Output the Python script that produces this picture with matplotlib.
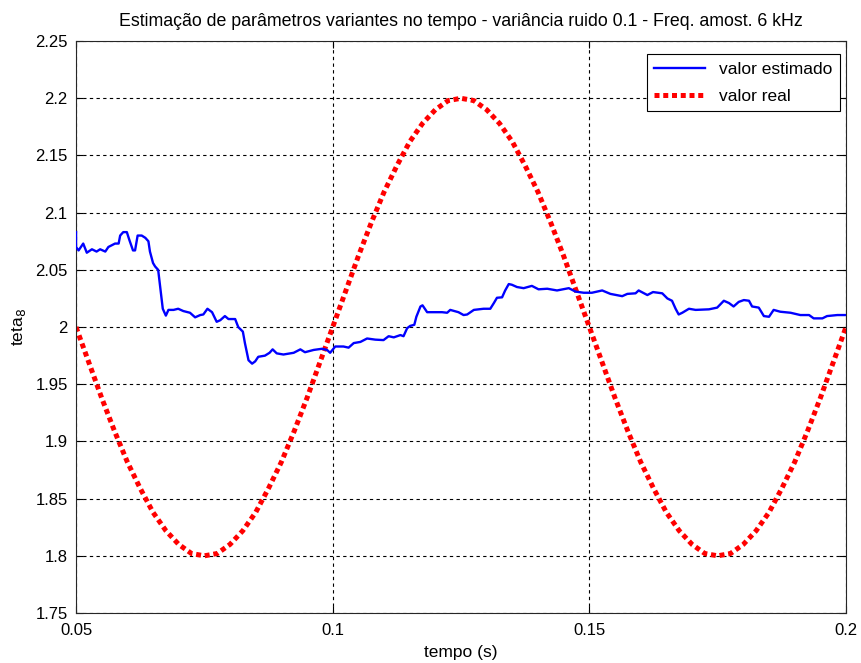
import matplotlib
matplotlib.use("Agg")
import matplotlib.pyplot as plt

plt.rcParams["font.family"] = ["Liberation Sans", "DejaVu Sans"]

# valor estimado
t_est = [0.0500, 0.0500, 0.0505, 0.0514, 0.0521, 0.0531, 0.0540, 0.0547, 0.0557,
         0.0563, 0.0576, 0.0583, 0.0586, 0.0592, 0.0599, 0.0604, 0.0611, 0.0615,
         0.0620, 0.0628, 0.0635, 0.0641, 0.0644, 0.0650, 0.0654, 0.0660, 0.0664,
         0.0669, 0.0675, 0.0680, 0.0690, 0.0699, 0.0709, 0.0722, 0.0732, 0.0742,
         0.0748, 0.0756, 0.0765, 0.0774, 0.0781, 0.0790, 0.0797, 0.0810, 0.0816,
         0.0825, 0.0829, 0.0836, 0.0843, 0.0849, 0.0855, 0.0868, 0.0877, 0.0883,
         0.0891, 0.0904, 0.0924, 0.0937, 0.0946, 0.0963, 0.0979, 0.0989, 0.0995,
         0.1005, 0.1021, 0.1031, 0.1041, 0.1054, 0.1067, 0.1083, 0.1099, 0.1109,
         0.1119, 0.1132, 0.1138, 0.1145, 0.1151, 0.1159, 0.1163, 0.1171, 0.1175,
         0.1184, 0.1197, 0.1213, 0.1223, 0.1229, 0.1245, 0.1255, 0.1262, 0.1275,
         0.1294, 0.1307, 0.1314, 0.1320, 0.1330, 0.1336, 0.1343, 0.1349, 0.1359,
         0.1372, 0.1388, 0.1401, 0.1418, 0.1437, 0.1460, 0.1473, 0.1489, 0.1505,
         0.1525, 0.1541, 0.1564, 0.1574, 0.1590, 0.1596, 0.1613, 0.1624, 0.1642,
         0.1652, 0.1661, 0.1668, 0.1674, 0.1681, 0.1694, 0.1707, 0.1733, 0.1749,
         0.1762, 0.1772, 0.1781, 0.1791, 0.1801, 0.1811, 0.1817, 0.1830, 0.1840,
         0.1850, 0.1859, 0.1872, 0.1892, 0.1911, 0.1928, 0.1937, 0.1954, 0.1963,
         0.1983, 0.2000]
v_est = [2.083, 2.070, 2.067, 2.073, 2.065, 2.068, 2.066, 2.068, 2.066,
         2.070, 2.073, 2.073, 2.080, 2.083, 2.083, 2.076, 2.067, 2.067,
         2.080, 2.080, 2.078, 2.075, 2.066, 2.056, 2.053, 2.050, 2.035,
         2.016, 2.010, 2.015, 2.015, 2.016, 2.014, 2.0125, 2.0085, 2.0105,
         2.011, 2.016, 2.013, 2.0046, 2.006, 2.0096, 2.007, 2.007, 2.000,
         1.996, 1.986, 1.971, 1.968, 1.970, 1.974, 1.975, 1.9775, 1.9805,
         1.977, 1.976, 1.9775, 1.9805, 1.978, 1.980, 1.981, 1.980, 1.9775,
         1.983, 1.983, 1.982, 1.986, 1.987, 1.990, 1.989, 1.9886, 1.992,
         1.991, 1.993, 1.992, 1.999, 2.001, 2.002, 2.009, 2.018, 2.019,
         2.013, 2.013, 2.013, 2.0125, 2.015, 2.013, 2.0105, 2.011, 2.015,
         2.016, 2.016, 2.021, 2.0256, 2.026, 2.032, 2.0376, 2.037, 2.035,
         2.034, 2.036, 2.033, 2.0335, 2.032, 2.034, 2.031, 2.030, 2.030,
         2.032, 2.029, 2.027, 2.029, 2.0295, 2.032, 2.028, 2.0306, 2.0295,
         2.025, 2.023, 2.016, 2.011, 2.0125, 2.016, 2.015, 2.0155, 2.017,
         2.023, 2.021, 2.018, 2.022, 2.0236, 2.023, 2.018, 2.017, 2.0096,
         2.009, 2.015, 2.0134, 2.0125, 2.0105, 2.0105, 2.0076, 2.0076, 2.0096,
         2.0105, 2.0105]

# valor real (passo de 2.5 ms)
t_real = [0.0500, 0.0525, 0.0550, 0.0575, 0.0600, 0.0625, 0.0650, 0.0675, 0.0700,
          0.0725, 0.0750, 0.0775, 0.0800, 0.0825, 0.0850, 0.0875, 0.0900, 0.0925,
          0.0950, 0.0975, 0.1000, 0.1025, 0.1050, 0.1075, 0.1100, 0.1125, 0.1150,
          0.1175, 0.1200, 0.1225, 0.1250, 0.1275, 0.1300, 0.1325, 0.1350, 0.1375,
          0.1400, 0.1425, 0.1450, 0.1475, 0.1500, 0.1525, 0.1550, 0.1575, 0.1600,
          0.1625, 0.1650, 0.1675, 0.1700, 0.1725, 0.1750, 0.1775, 0.1800, 0.1825,
          0.1850, 0.1875, 0.1900, 0.1925, 0.1950, 0.1975, 0.2000]
v_real = [2.000, 1.969, 1.938, 1.909, 1.882, 1.859, 1.838, 1.822, 1.810,
          1.802, 1.800, 1.802, 1.810, 1.822, 1.838, 1.859, 1.882, 1.909,
          1.938, 1.969, 2.000, 2.031, 2.062, 2.091, 2.118, 2.141, 2.162,
          2.178, 2.190, 2.198, 2.200, 2.198, 2.190, 2.178, 2.162, 2.141,
          2.118, 2.091, 2.062, 2.031, 2.000, 1.969, 1.938, 1.909, 1.882,
          1.859, 1.838, 1.822, 1.810, 1.802, 1.800, 1.802, 1.810, 1.822,
          1.838, 1.859, 1.882, 1.909, 1.938, 1.969, 2.000]

x_ticks = [0.05, 0.1, 0.15, 0.2]
x_ticklabels = ["0.05", "0.1", "0.15", "0.2"]
y_ticks = [1.75, 1.8, 1.85, 1.9, 1.95, 2.0, 2.05, 2.1, 2.15, 2.2, 2.25]
y_ticklabels = ["1.75", "1.8", "1.85", "1.9", "1.95", "2", "2.05", "2.1", "2.15", "2.2", "2.25"]

fig = plt.figure(figsize=(8.61, 6.63), dpi=100)
ax = fig.add_axes([0.0883, 0.0754, 0.8943, 0.8626])

ax.plot(t_est, v_est, color="#0000ff", lw=1.7, label="valor estimado", zorder=3)
ax.plot(t_real, v_real, color="#ff0000", lw=3.6, linestyle=(0, (1, 0.75)),
        dash_capstyle="butt", label="valor real", zorder=2)

ax.set_xlim(0.05, 0.2)
ax.set_ylim(1.75, 2.25)
ax.set_xticks(x_ticks)
ax.set_xticklabels(x_ticklabels)
ax.set_yticks(y_ticks)
ax.set_yticklabels(y_ticklabels)
ax.tick_params(direction="in", top=True, right=True, length=5, width=0.8,
               labelsize=12)
ax.tick_params(axis="x", pad=7)
ax.tick_params(axis="y", pad=6)
ax.grid(True, color="black", linestyle=(0, (3, 3)), lw=0.8)
for s in ax.spines.values():
    s.set_linewidth(0.8)
    s.set_color("#262626")

ax.set_xlabel("tempo (s)", fontsize=12.5, labelpad=5)
ax.set_ylabel("teta$_8$", fontsize=12.5, labelpad=5)
ax.set_title("Estimação de parâmetros variantes no tempo - variância ruido 0.1 - Freq. amost. 6 kHz",
             fontsize=12.8, pad=11)

leg = ax.legend(loc="upper right", bbox_to_anchor=(0.992, 0.977), borderaxespad=0,
                fontsize=12.5, fancybox=False, framealpha=1, edgecolor="black",
                handlelength=2.9, labelspacing=0.65, borderpad=0.45)
leg.get_frame().set_linewidth(0.8)

fig.savefig("out.png", dpi=100)
